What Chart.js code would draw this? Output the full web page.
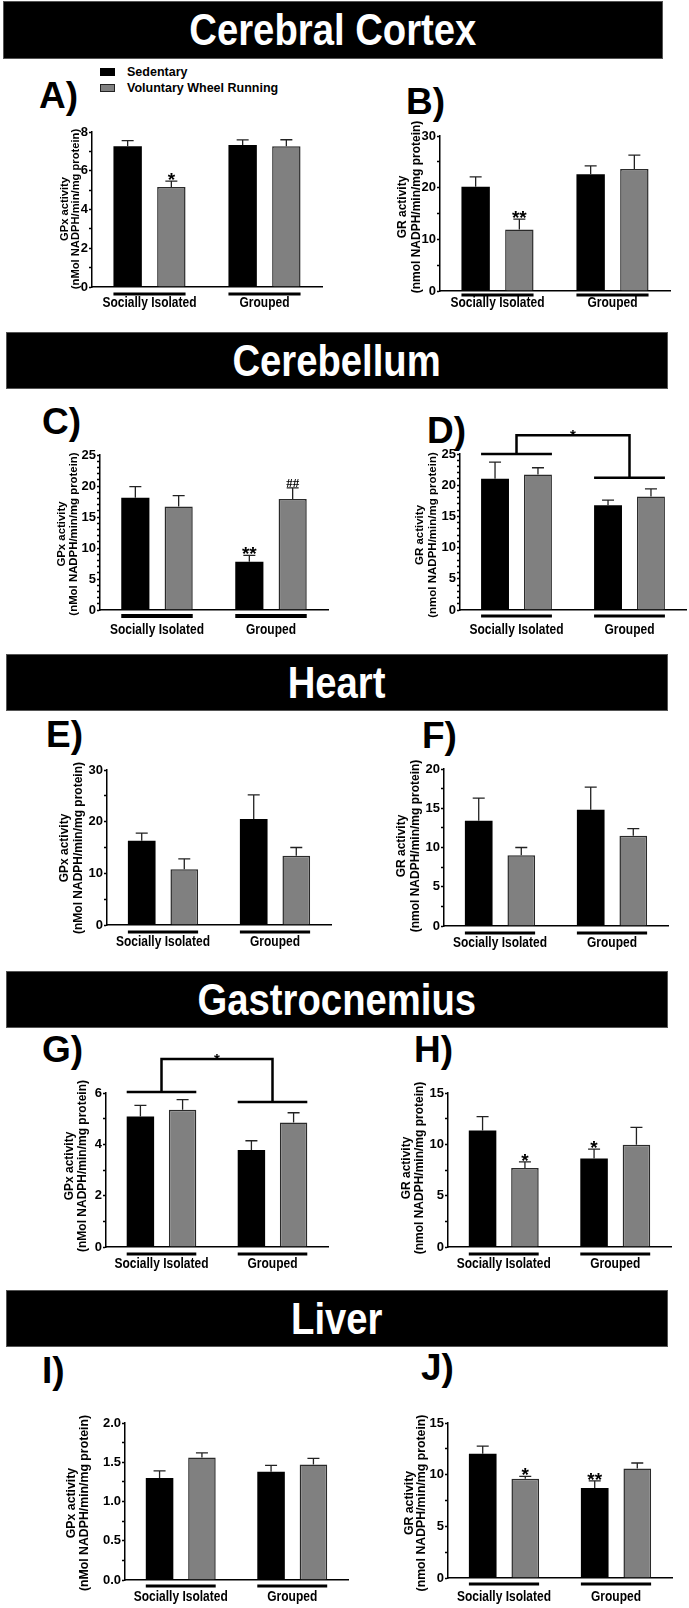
<!DOCTYPE html>
<html lang="en">
<head>
  <meta charset="UTF-8" />
  <title>GPx and GR activity by tissue</title>
  <script src="https://cdn.jsdelivr.net/npm/chart.js"></script>
  <style>
    html, body { margin: 0; padding: 0; background: #fff; }
    #fig { position: relative; width: 689px; height: 1608px; overflow: hidden;
           font-family: 'Liberation Sans', Arial, sans-serif; }
    .band { position: absolute; background: #000; color: #fff; font-weight: bold; font-size: 45px;
            display: flex; align-items: center; justify-content: center;
            border: 1px solid #555; box-sizing: border-box; }
    .band span { display: inline-block; transform: scaleX(0.85); white-space: nowrap; }
    .tag { position: absolute; font-weight: bold; font-size: 37px; line-height: 37px; color: #000; }
    .key { position: absolute; width: 15px; height: 8px; box-sizing: border-box; }
    .keytext { position: absolute; font-weight: bold; font-size: 12.5px; line-height: 14px; color: #000; }
    canvas { position: absolute; left: 0; top: 0; }
  </style>
</head>
<body>
<div id="fig">
  <!-- section bands -->
  <div class="band" style="left:3px;top:1px;width:660px;height:58px"><span>Cerebral Cortex</span></div>
  <div class="band" style="left:6px;top:332px;width:662px;height:57px"><span>Cerebellum</span></div>
  <div class="band" style="left:6px;top:654px;width:662px;height:57px"><span>Heart</span></div>
  <div class="band" style="left:6px;top:971px;width:662px;height:57px"><span>Gastrocnemius</span></div>
  <div class="band" style="left:6px;top:1290px;width:662px;height:57px"><span>Liver</span></div>

  <!-- panel letters -->
  <div class="tag" style="left:39px;top:77px">A)</div>
  <div class="tag" style="left:406px;top:83px">B)</div>
  <div class="tag" style="left:42px;top:403px">C)</div>
  <div class="tag" style="left:427px;top:412px">D)</div>
  <div class="tag" style="left:46px;top:716px">E)</div>
  <div class="tag" style="left:422px;top:717px">F)</div>
  <div class="tag" style="left:42px;top:1031px">G)</div>
  <div class="tag" style="left:414px;top:1031px">H)</div>
  <div class="tag" style="left:42px;top:1352px">I)</div>
  <div class="tag" style="left:421px;top:1349px">J)</div>
</div>

<script>
  // ---- data ----
  const groups = ['Socially Isolated', 'Grouped'];
  const seriesNames = ['Sedentary', 'Voluntary Wheel Running'];
  const gpxTitle = ['GPx activity', '(nMol NADPH/min/mg protein)'];
  const grTitle = ['GR activity', '(nmol NADPH/min/mg protein)'];

  // A) cerebral cortex GPx
  const cortexGpxSed = [7.26, 7.33];
  const cortexGpxSedErr = [0.29, 0.26];
  const cortexGpxRun = [5.16, 7.26];
  const cortexGpxRunErr = [0.30, 0.34];
  const cortexGpxMarks = [['', ''], ['*', '']];
  const cortexGpxTicks = [0, 2, 4, 6, 8];

  // B) cerebral cortex GR
  const cortexGrSed = [20.2, 22.6];
  const cortexGrSedErr = [1.9, 1.6];
  const cortexGrRun = [11.9, 23.6];
  const cortexGrRunErr = [2.0, 2.7];
  const cortexGrMarks = [['', ''], ['**', '']];
  const cortexGrTicks = [0, 10, 20, 30];

  // C) cerebellum GPx
  const cerebGpxSed = [18.1, 7.8];
  const cerebGpxSedErr = [1.8, 1.0];
  const cerebGpxRun = [16.7, 17.9];
  const cerebGpxRunErr = [1.75, 1.8];
  const cerebGpxMarks = [['', '**'], ['', '##']];
  const cerebGpxTicks = [0, 5, 10, 15, 20, 25];

  // D) cerebellum GR
  const cerebGrSed = [21.05, 16.8];
  const cerebGrSedErr = [2.65, 0.8];
  const cerebGrRun = [21.7, 18.2];
  const cerebGrRunErr = [1.1, 1.2];
  const cerebGrMarks = [['', ''], ['', '']];
  const cerebGrTicks = [0, 5, 10, 15, 20, 25];
  const cerebGrBracket = [25.0, 21.2, 28.0];   // left bar, right bar, top (axis units)

  // E) heart GPx
  const heartGpxSed = [16.3, 20.5];
  const heartGpxSedErr = [1.5, 4.7];
  const heartGpxRun = [10.8, 13.4];
  const heartGpxRunErr = [2.0, 1.6];
  const heartGpxMarks = [['', ''], ['', '']];
  const heartGpxTicks = [0, 10, 20, 30];

  // F) heart GR
  const heartGrSed = [13.4, 14.8];
  const heartGrSedErr = [2.9, 2.9];
  const heartGrRun = [9.0, 11.5];
  const heartGrRunErr = [1.0, 0.9];
  const heartGrMarks = [['', ''], ['', '']];
  const heartGrTicks = [0, 5, 10, 15, 20];

  // G) gastrocnemius GPx
  const gastroGpxSed = [5.08, 3.78];
  const gastroGpxSedErr = [0.44, 0.36];
  const gastroGpxRun = [5.35, 4.85];
  const gastroGpxRunErr = [0.39, 0.38];
  const gastroGpxMarks = [['', ''], ['', '']];
  const gastroGpxTicks = [0, 2, 4, 6];
  const gastroGpxBracket = [6.04, 5.65, 7.32];

  // H) gastrocnemius GR
  const gastroGrSed = [11.34, 8.63];
  const gastroGrSedErr = [1.36, 0.9];
  const gastroGrRun = [7.7, 9.95];
  const gastroGrRunErr = [0.6, 1.7];
  const gastroGrMarks = [['', '*'], ['*', '']];
  const gastroGrTicks = [0, 5, 10, 15];

  // I) liver GPx
  const liverGpxSed = [1.30, 1.38];
  const liverGpxSedErr = [0.09, 0.08];
  const liverGpxRun = [1.56, 1.47];
  const liverGpxRunErr = [0.06, 0.08];
  const liverGpxMarks = [['', ''], ['', '']];
  const liverGpxTicks = [0, 0.5, 1.0, 1.5, 2.0];

  // J) liver GR
  const liverGrSed = [12.03, 8.7];
  const liverGrSedErr = [0.74, 0.7];
  const liverGrRun = [9.6, 10.6];
  const liverGrRunErr = [0.24, 0.53];
  const liverGrMarks = [['', '**'], ['*', '']];
  const liverGrTicks = [0, 5, 10, 15];

  // ---- layout (page pixels) ----
  const W = 689, H = 1608, YW = 30, XH = 34;
  const SANS = "'Liberation Sans', Arial, sans-serif";
  const SERIF = "'Liberation Serif', 'Times New Roman', serif";

  // box = [axis left, axis top, axis right, axis bottom]; ttl = [x line1, x line2, centre y, size]
  const panels = [
    { sed: cortexGpxSed, sedErr: cortexGpxSedErr, run: cortexGpxRun, runErr: cortexGpxRunErr, marks: cortexGpxMarks,
      ticks: cortexGpxTicks, minor: 1, dec: 0, title: gpxTitle,
      box: [92, 132, 322, 287], ttl: [65, 76, 209, 11.2], under: [7, 3], lab: 16 },
    { sed: cortexGrSed, sedErr: cortexGrSedErr, run: cortexGrRun, runErr: cortexGrRunErr, marks: cortexGrMarks,
      ticks: cortexGrTicks, minor: 5, dec: 0, title: grTitle,
      box: [440, 136, 670, 291], ttl: [403, 417, 207, 12], under: [4, 3], lab: 12 },
    { sed: cerebGpxSed, sedErr: cerebGpxSedErr, run: cerebGpxRun, runErr: cerebGpxRunErr, marks: cerebGpxMarks,
      ticks: cerebGpxTicks, minor: 1, dec: 0, title: gpxTitle,
      box: [100, 455, 328, 610], ttl: [62, 74, 534, 11.4], under: [6, 4], lab: 20 },
    { sed: cerebGrSed, sedErr: cerebGrSedErr, run: cerebGrRun, runErr: cerebGrRunErr, marks: cerebGrMarks,
      ticks: cerebGrTicks, minor: 1, dec: 0, title: grTitle, bracket: cerebGrBracket,
      box: [460, 454, 686, 610], ttl: [420, 433, 535, 11.5], under: [6, 3], lab: 20 },
    { sed: heartGpxSed, sedErr: heartGpxSedErr, run: heartGpxRun, runErr: heartGpxRunErr, marks: heartGpxMarks,
      ticks: heartGpxTicks, minor: 5, dec: 0, title: gpxTitle,
      box: [107, 770, 331, 925], ttl: [65, 79, 848, 12], under: [7, 3], lab: 17 },
    { sed: heartGrSed, sedErr: heartGrSedErr, run: heartGrRun, runErr: heartGrRunErr, marks: heartGrMarks,
      ticks: heartGrTicks, minor: 2.5, dec: 0, title: grTitle,
      box: [444, 769, 668, 926], ttl: [402, 416, 846, 12], under: [7, 3], lab: 17 },
    { sed: gastroGpxSed, sedErr: gastroGpxSedErr, run: gastroGpxRun, runErr: gastroGpxRunErr, marks: gastroGpxMarks,
      ticks: gastroGpxTicks, minor: 1, dec: 0, title: gpxTitle, bracket: gastroGpxBracket,
      box: [106, 1093, 328, 1247], ttl: [70, 83, 1166, 12], under: [7, 3], lab: 17 },
    { sed: gastroGrSed, sedErr: gastroGrSedErr, run: gastroGrRun, runErr: gastroGrRunErr, marks: gastroGrMarks,
      ticks: gastroGrTicks, minor: 2.5, dec: 0, title: grTitle,
      box: [448, 1093, 671, 1247], ttl: [407, 420, 1168, 12], under: [7, 3], lab: 17 },
    { sed: liverGpxSed, sedErr: liverGpxSedErr, run: liverGpxRun, runErr: liverGpxRunErr, marks: liverGpxMarks,
      ticks: liverGpxTicks, minor: 0.25, dec: 1, title: gpxTitle,
      box: [125, 1423, 348, 1580], ttl: [72, 85, 1503, 12.3], under: [6, 3], lab: 17 },
    { sed: liverGrSed, sedErr: liverGrSedErr, run: liverGrRun, runErr: liverGrRunErr, marks: liverGrMarks,
      ticks: liverGrTicks, minor: 2.5, dec: 0, title: grTitle,
      box: [448, 1423, 672, 1578], ttl: [410, 422, 1503, 12.3], under: [6, 3], lab: 19 }
  ];

  const fig = document.getElementById('fig');

  // legend for panel A
  const keyColors = ['#000', '#808080'];
  seriesNames.forEach((name, i) => {
    const box = document.createElement('div');
    box.className = 'key';
    box.style.left = '100px';
    box.style.top = (68 + i * 16) + 'px';
    box.style.background = keyColors[i];
    if (i === 1) box.style.border = '1px solid #222';
    fig.appendChild(box);
    const txt = document.createElement('div');
    txt.className = 'keytext';
    txt.style.left = '127px';
    txt.style.top = (65 + i * 16) + 'px';
    txt.textContent = name;
    fig.appendChild(txt);
  });

  // error bars, stars, group underlines + labels, brackets and y titles
  function makeDecor(p) {
    return {
      id: 'decor',
      afterDatasetsDraw(chart) {
        const ctx = chart.ctx;
        const ys = chart.scales.y;
        const xs = chart.scales.x;
        const area = chart.chartArea;
        ctx.save();

        chart.data.datasets.forEach((ds, di) => {
          chart.getDatasetMeta(di).data.forEach((bar, i) => {
            const yTop = ys.getPixelForValue(ds.data[i] + ds.errors[i]);
            ctx.strokeStyle = '#222';
            ctx.lineWidth = 1.3;
            ctx.beginPath();
            ctx.moveTo(bar.x, bar.y);
            ctx.lineTo(bar.x, yTop);
            ctx.moveTo(bar.x - 6, yTop);
            ctx.lineTo(bar.x + 6, yTop);
            ctx.stroke();

            const m = ds.marks[i];
            if (m) {
              ctx.fillStyle = '#000';
              ctx.textAlign = 'center';
              ctx.textBaseline = 'alphabetic';
              if (m.startsWith('#')) {
                ctx.font = 'bold 13px ' + SERIF;
                ctx.fillText(m, bar.x, yTop - 1);
              } else {
                ctx.font = 'bold 19px ' + SANS;
                ctx.fillText(m, bar.x, yTop + 5);
              }
            }
          });
        });

        // thick lines under each group
        const m0 = chart.getDatasetMeta(0).data;
        const m1 = chart.getDatasetMeta(1).data;
        const spans = m0.map((b, i) => [b.x - b.width / 2, m1[i].x + m1[i].width / 2]);
        ctx.strokeStyle = '#000';
        ctx.lineWidth = p.under[1];
        const yl = area.bottom + p.under[0];
        spans.forEach(s => {
          ctx.beginPath();
          ctx.moveTo(s[0], yl);
          ctx.lineTo(s[1], yl);
          ctx.stroke();
        });

        // group names, condensed like the original
        ctx.fillStyle = '#000';
        ctx.font = 'bold 15px ' + SANS;
        ctx.textAlign = 'center';
        ctx.textBaseline = 'middle';
        chart.data.labels.forEach((lbl, i) => {
          ctx.save();
          ctx.translate(xs.getPixelForTick(i), area.bottom + p.lab);
          ctx.scale(0.8, 1);
          ctx.fillText(lbl, 0, 0);
          ctx.restore();
        });

        // group comparison bracket
        if (p.bracket) {
          const yA = ys.getPixelForValue(p.bracket[0]);
          const yB = ys.getPixelForValue(p.bracket[1]);
          const yT = ys.getPixelForValue(p.bracket[2]);
          const cA = (spans[0][0] + spans[0][1]) / 2;
          const cB = (spans[1][0] + spans[1][1]) / 2;
          ctx.lineWidth = 2.5;
          ctx.beginPath();
          ctx.moveTo(spans[0][0], yA); ctx.lineTo(spans[0][1], yA);
          ctx.moveTo(spans[1][0], yB); ctx.lineTo(spans[1][1], yB);
          ctx.moveTo(cA, yA); ctx.lineTo(cA, yT); ctx.lineTo(cB, yT); ctx.lineTo(cB, yB);
          ctx.stroke();
          ctx.font = 'bold 15px ' + SANS;
          ctx.textBaseline = 'alphabetic';
          ctx.fillText('*', (cA + cB) / 2, yT + 5);
        }

        // rotated y title
        ctx.font = 'bold ' + p.ttl[3] + 'px ' + SANS;
        ctx.textAlign = 'center';
        ctx.textBaseline = 'middle';
        p.title.forEach((t, k) => {
          ctx.save();
          ctx.translate(p.ttl[k], p.ttl[2]);
          ctx.rotate(-Math.PI / 2);
          ctx.fillText(t, 0, 0);
          ctx.restore();
        });
        ctx.restore();
      }
    };
  }

  panels.forEach(p => {
    const cv = document.createElement('canvas');
    cv.width = W;
    cv.height = H;
    fig.appendChild(cv);

    const major = p.ticks[1] - p.ticks[0];
    const yMax = p.ticks[p.ticks.length - 1];

    new Chart(cv, {
      type: 'bar',
      data: {
        labels: groups,
        datasets: [
          { label: seriesNames[0], data: p.sed, errors: p.sedErr, marks: p.marks[0],
            backgroundColor: '#000', borderColor: '#000', borderWidth: 0 },
          { label: seriesNames[1], data: p.run, errors: p.runErr, marks: p.marks[1],
            backgroundColor: '#808080', borderColor: '#2a2a2a', borderWidth: 1.5 }
        ]
      },
      options: {
        responsive: false,
        animation: false,
        devicePixelRatio: 1,
        events: [],
        layout: {
          padding: { left: p.box[0] - YW, top: p.box[1], right: W - p.box[2], bottom: H - p.box[3] - XH }
        },
        datasets: { bar: { categoryPercentage: 0.76, barPercentage: 0.65 } },
        plugins: { legend: { display: false }, tooltip: { enabled: false } },
        scales: {
          x: {
            grid: { display: false, drawTicks: false },
            border: { color: '#000', width: 1.5 },
            ticks: { display: false },
            afterFit: s => { s.height = XH; }
          },
          y: {
            min: 0,
            max: yMax,
            grid: { drawOnChartArea: false, drawTicks: true, tickLength: 3, tickWidth: 1.5, tickColor: '#000' },
            border: { color: '#000', width: 1.5 },
            ticks: {
              stepSize: p.minor,
              autoSkip: false,
              padding: 1,
              color: '#000',
              font: { family: SANS, size: 13, weight: 'bold' },
              callback: v => {
                const r = v / major;
                return Math.abs(r - Math.round(r)) < 1e-6 ? v.toFixed(p.dec) : '';
              }
            },
            afterFit: s => { s.width = YW; }
          }
        }
      },
      plugins: [makeDecor(p)]
    });
  });
</script>
</body>
</html>
